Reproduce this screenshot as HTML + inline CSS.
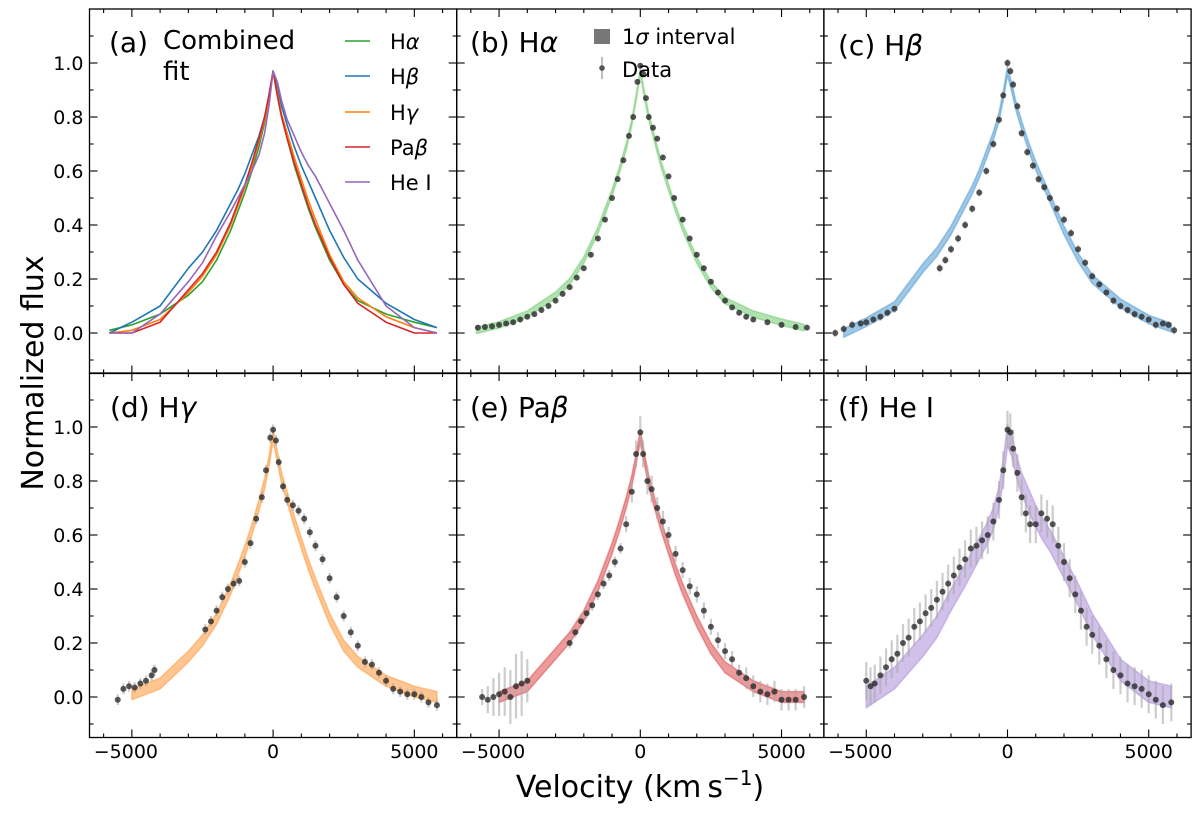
<!DOCTYPE html>
<html><head><meta charset="utf-8"><style>
html,body{margin:0;padding:0;background:#fff;}
svg{display:block;font-family:"DejaVu Sans","Liberation Sans",sans-serif;}
</style></head><body>
<svg id="fig" width="1200" height="815" viewBox="0 0 1200 815" xmlns="http://www.w3.org/2000/svg">
<text transform="translate(43,373) rotate(-90)" text-anchor="middle" font-size="30">Normalized flux</text>
<text x="640" y="797" text-anchor="middle" font-size="30">Velocity (km<tspan dx="6">s</tspan><tspan font-size="20" dy="-12">−1</tspan><tspan dy="12">)</tspan></text>
</svg>
<script>
// ---------- data ----------
const modelVel = [-5800,-5000,-4000,-3000,-2500,-2000,-1500,-1250,-1000,-750,-500,-300,-150,0,150,300,500,750,1000,1250,1500,2000,2500,3000,4000,5000,5800];
const haModel  = [0.01,0.03,0.07,0.14,0.19,0.27,0.38,0.45,0.52,0.60,0.69,0.78,0.87,0.97,0.88,0.80,0.72,0.62,0.54,0.46,0.39,0.27,0.18,0.12,0.07,0.04,0.02];
const hbModel  = [0.00,0.04,0.10,0.24,0.30,0.38,0.48,0.53,0.59,0.66,0.73,0.80,0.88,0.97,0.91,0.84,0.77,0.69,0.62,0.56,0.50,0.38,0.28,0.20,0.11,0.05,0.02];
const hgModel  = [0.00,0.01,0.05,0.15,0.21,0.29,0.40,0.47,0.54,0.62,0.71,0.79,0.87,0.97,0.89,0.81,0.74,0.65,0.57,0.49,0.42,0.29,0.19,0.13,0.06,0.02,0.00];
const pbModel  = [0.00,0.00,0.04,0.16,0.22,0.30,0.41,0.48,0.55,0.63,0.72,0.80,0.88,0.97,0.88,0.80,0.72,0.63,0.55,0.47,0.40,0.28,0.18,0.11,0.04,0.00,0.00];
const heModel  = [0.00,0.00,0.07,0.19,0.26,0.36,0.45,0.50,0.55,0.60,0.66,0.74,0.84,0.97,0.93,0.86,0.79,0.73,0.67,0.62,0.58,0.48,0.38,0.27,0.10,0.02,0.00];
const haBand = 0.012, hbBand = 0.016, hgBand = 0.02, pbBand = 0.02, heBand = 0.04;

const haDataV = [-5750,-5500,-5250,-5000,-4750,-4500,-4250,-4000,-3750,-3500,-3250,-3000,-2750,-2500,-2250,-2000,-1750,-1500,-1250,-1000,-800,-600,-400,-250,-100,0,100,200,300,450,600,800,1000,1200,1500,1750,2000,2250,2500,2750,3000,3250,3500,3750,4000,4500,5000,5500,5900];
const haDataF = [0.02,0.022,0.025,0.03,0.035,0.04,0.05,0.06,0.07,0.085,0.10,0.12,0.145,0.17,0.205,0.24,0.29,0.35,0.42,0.50,0.57,0.64,0.73,0.80,0.93,0.99,0.96,0.87,0.80,0.76,0.72,0.65,0.58,0.50,0.42,0.35,0.29,0.24,0.19,0.15,0.12,0.095,0.075,0.06,0.05,0.04,0.03,0.022,0.02];
const haDataE = 0.01;

const hbDataV = [-6100,-5800,-5500,-5200,-5000,-4750,-4500,-4250,-4000,-2400,-2200,-2000,-1750,-1500,-1250,-1000,-750,-500,-300,-150,0,100,200,350,500,700,900,1100,1300,1500,1750,2000,2250,2500,2750,3000,3250,3500,3750,4000,4250,4500,4750,5000,5250,5500,5700,5900];
const hbDataF = [0.0,0.015,0.03,0.035,0.04,0.05,0.06,0.075,0.09,0.24,0.27,0.31,0.35,0.40,0.46,0.52,0.60,0.70,0.79,0.88,1.00,0.97,0.92,0.84,0.74,0.67,0.62,0.57,0.54,0.50,0.46,0.42,0.37,0.31,0.26,0.21,0.18,0.15,0.12,0.10,0.085,0.07,0.06,0.05,0.03,0.035,0.03,0.01];
const hbDataE = 0.015;

const hgDataV = [-5500,-5300,-5100,-4900,-4700,-4500,-4300,-4200,-2400,-2200,-2000,-1800,-1600,-1400,-1200,-1000,-800,-600,-400,-250,-100,0,100,200,350,500,700,900,1100,1300,1500,1750,2000,2250,2500,2750,3000,3250,3500,3750,4000,4250,4500,4750,5000,5250,5500,5800];
const hgDataF = [-0.01,0.03,0.04,0.035,0.05,0.06,0.08,0.10,0.25,0.28,0.32,0.37,0.40,0.42,0.43,0.50,0.57,0.66,0.74,0.84,0.96,0.99,0.95,0.87,0.78,0.73,0.71,0.69,0.66,0.61,0.56,0.51,0.44,0.37,0.30,0.24,0.19,0.13,0.12,0.09,0.06,0.03,0.02,0.01,0.01,0.0,-0.02,-0.03];
const hgDataE = 0.02;

const pbDataV = [-5600,-5400,-5200,-5000,-4800,-4600,-4400,-4200,-4000,-2500,-2300,-2100,-1900,-1700,-1500,-1300,-1100,-900,-700,-500,-300,-150,0,100,250,400,600,800,1000,1250,1500,1750,2000,2250,2500,2750,3000,3250,3500,3750,4000,4250,4500,4750,5000,5250,5500,5800];
const pbDataF = [0.0,-0.01,0.0,0.01,0.02,0.0,0.04,0.05,0.06,0.20,0.24,0.28,0.31,0.34,0.38,0.42,0.45,0.50,0.55,0.64,0.76,0.90,0.98,0.90,0.80,0.77,0.70,0.65,0.60,0.53,0.47,0.41,0.38,0.32,0.26,0.21,0.17,0.14,0.09,0.07,0.04,0.02,0.01,0.02,-0.01,-0.01,-0.01,0.0];
const pbDataE = [0.03,0.05,0.07,0.08,0.09,0.10,0.12,0.12,0.08,0.02,0.02,0.02,0.02,0.02,0.02,0.02,0.02,0.02,0.02,0.03,0.04,0.05,0.06,0.05,0.05,0.05,0.04,0.04,0.03,0.03,0.03,0.03,0.03,0.03,0.03,0.03,0.03,0.03,0.03,0.04,0.04,0.04,0.04,0.04,0.04,0.04,0.04,0.04];

const heDataV = [-5000,-4850,-4700,-4500,-4300,-4100,-3900,-3700,-3500,-3300,-3100,-2900,-2700,-2500,-2300,-2100,-1900,-1700,-1500,-1300,-1100,-900,-700,-500,-300,-150,0,100,200,350,500,650,800,1000,1200,1400,1600,1800,2000,2200,2400,2600,2800,3000,3250,3500,3750,4000,4250,4500,4750,5000,5250,5500,5800];
const heDataF = [0.06,0.04,0.05,0.08,0.11,0.14,0.16,0.20,0.22,0.26,0.28,0.31,0.33,0.36,0.39,0.42,0.45,0.48,0.51,0.55,0.56,0.58,0.60,0.65,0.73,0.84,0.99,0.98,0.92,0.83,0.74,0.68,0.64,0.64,0.68,0.66,0.64,0.56,0.50,0.44,0.38,0.32,0.26,0.23,0.19,0.14,0.10,0.08,0.05,0.04,0.03,0.01,-0.01,-0.03,-0.02];
const heDataE = 0.07;

const yTicks = [0.0,0.2,0.4,0.6,0.8,1.0];
const yTickLabels = ["0.0","0.2","0.4","0.6","0.8","1.0"];
const xTicks = [-5000,0,5000];
const xTickLabels = ["−5000","0","5000"];

// ---------- layout ----------
const NS="http://www.w3.org/2000/svg";
const svg=document.getElementById('fig');
const X0=[89.5,456.7,823.9], W=367.2;
const Y0=[9,373], H=364.5;
const XMIN=-6500,XMAX=6500,YMIN=-0.15,YMAX=1.2;
function mk(tag,attrs,parent){const e=document.createElementNS(NS,tag);for(const k in attrs)e.setAttribute(k,attrs[k]);(parent||svg).appendChild(e);return e;}
function sx(c,v){return X0[c]+(v-XMIN)/(XMAX-XMIN)*W;}
function sy(r,f){return Y0[r]+(YMAX-f)/(YMAX-YMIN)*H;}

const colors={ha:'#2ca02c',hb:'#1f77b4',hg:'#ff7f0e',pb:'#d62728',he:'#9467bd'};

function linePath(c,r,vs,fs){return vs.map((v,i)=>(i?'L':'M')+sx(c,v).toFixed(1)+','+sy(r,fs[i]).toFixed(1)).join(' ');}
function bandPath(c,r,vs,fs,hw,vmin){const idx=vs.map((v,i)=>i).filter(i=>vs[i]>=vmin);
 let d=idx.map((i,j)=>(j?'L':'M')+sx(c,vs[i]).toFixed(1)+','+sy(r,fs[i]+hw).toFixed(1)).join(' ');
 for(let j=idx.length-1;j>=0;j--){const i=idx[j];d+=' L'+sx(c,vs[i]).toFixed(1)+','+sy(r,fs[i]-hw).toFixed(1);}return d+' Z';}

function drawPanel(c,r,name){
  const g=mk('g',{});
  
  
  return g;
}
function drawBand(g,c,r,fs,hw,col,vmin,name){
  const p=mk('path',{d:bandPath(c,r,modelVel,fs,hw,vmin),fill:col,'fill-opacity':0.6,stroke:col,'stroke-opacity':0.6,'stroke-width':1.5,'stroke-linejoin':'round'},g);
  
  
}
function drawData(g,c,r,vs,fs,es,name){
  const dg=mk('g',{},g);
  
  
  vs.forEach((v,i)=>{const e=Array.isArray(es)?es[i]:es;
    const l=mk('line',{x1:sx(c,v),x2:sx(c,v),y1:sy(r,fs[i]-e),y2:sy(r,fs[i]+e),stroke:'#aaa','stroke-width':2.2,'stroke-opacity':0.6},dg);
    
    
  });
  vs.forEach((v,i)=>{
    const pt=mk('circle',{cx:sx(c,v),cy:sy(r,fs[i]),r:3,fill:'#222','fill-opacity':0.75},dg);
    
    
  });
}

// panel a
const ga=drawPanel(0,0,'panel-a-combined-fit');
[['ha',haModel],['hb',hbModel],['hg',hgModel],['pb',pbModel],['he',heModel]].forEach(([k,arr])=>{
  const p=mk('path',{d:linePath(0,0,modelVel,arr),fill:'none',stroke:colors[k],'stroke-width':1.6,'stroke-linejoin':'round'},ga);
  
  
});
const gb=drawPanel(1,0,'panel-b-halpha'); drawBand(gb,1,0,haModel,haBand,'#7fcf7f',-5800,'band-halpha'); drawData(gb,1,0,haDataV,haDataF,haDataE,'data-halpha');
const gc=drawPanel(2,0,'panel-c-hbeta'); drawBand(gc,2,0,hbModel,hbBand,'#5fa3d6',-5800,'band-hbeta'); drawData(gc,2,0,hbDataV,hbDataF,hbDataE,'data-hbeta');
const gd=drawPanel(0,1,'panel-d-hgamma'); drawBand(gd,0,1,hgModel,hgBand,'#ffa04a',-5000,'band-hgamma'); drawData(gd,0,1,hgDataV,hgDataF,hgDataE,'data-hgamma');
const ge=drawPanel(1,1,'panel-e-pabeta'); drawBand(ge,1,1,pbModel,pbBand,'#e0585a',-5000,'band-pabeta'); drawData(ge,1,1,pbDataV,pbDataF,pbDataE,'data-pabeta');
const gf=drawPanel(2,1,'panel-f-hei'); drawBand(gf,2,1,heModel,heBand,'#b396dc',-5000,'band-hei'); drawData(gf,2,1,heDataV,heDataF,heDataE,'data-hei');

// axes frames and ticks
for(let r=0;r<2;r++)for(let c=0;c<3;c++){
  const ax=mk('g',{});
  
  
  mk('rect',{x:X0[c],y:Y0[r],width:W,height:H,fill:'none',stroke:'#000','stroke-width':1.3},ax);
  for(let v=-6000;v<=6000;v+=1000){const major=(v%5000===0);const L=major?8:4;const x=sx(c,v);
    mk('line',{x1:x,x2:x,y1:Y0[r]+H,y2:Y0[r]+H-L,stroke:'#000','stroke-width':1.1},ax);
    mk('line',{x1:x,x2:x,y1:Y0[r],y2:Y0[r]+L,stroke:'#000','stroke-width':1.1},ax);}
  for(let k=-1;k<=11;k++){const f=k/10;const major=(k%2===0);const L=major?8:4;const y=sy(r,f);
    mk('line',{x1:X0[c],x2:X0[c]+L,y1:y,y2:y,stroke:'#000','stroke-width':1.1},ax);
    mk('line',{x1:X0[c]+W,x2:X0[c]+W-L,y1:y,y2:y,stroke:'#000','stroke-width':1.1},ax);}
  if(c===0)yTicks.forEach((f,i)=>{const t=mk('text',{x:X0[0]-6,y:sy(r,f)+7,'text-anchor':'end','font-size':19},ax);t.textContent=yTickLabels[i];
    
    });
  if(r===1)xTicks.forEach((v,i)=>{const t=mk('text',{x:sx(c,v)-(v<0?6:0),y:758,'text-anchor':'middle','font-size':19},ax);t.textContent=xTickLabels[i];
    
    });
}
</script>
<svg style="position:absolute;left:0;top:0" width="1200" height="815" font-family="DejaVu Sans, Liberation Sans, sans-serif">
<text x="109" y="52" font-size="28">(a)</text>
<text x="163" y="49" font-size="26">Combined</text>
<text x="163" y="80" font-size="26">fit</text>
<g font-size="21">
<line x1="345" x2="370" y1="41" y2="41" stroke="#2ca02c" stroke-width="1.6"/><text x="390" y="49">H<tspan font-style="italic">α</tspan></text>
<line x1="345" x2="370" y1="76" y2="76" stroke="#1f77b4" stroke-width="1.6"/><text x="390" y="84">H<tspan font-style="italic">β</tspan></text>
<line x1="345" x2="370" y1="112" y2="112" stroke="#ff7f0e" stroke-width="1.6"/><text x="390" y="120">H<tspan font-style="italic">γ</tspan></text>
<line x1="345" x2="370" y1="147" y2="147" stroke="#d62728" stroke-width="1.6"/><text x="390" y="155">Pa<tspan font-style="italic">β</tspan></text>
<line x1="345" x2="370" y1="182" y2="182" stroke="#9467bd" stroke-width="1.6"/><text x="390" y="190">He I</text>
</g>
<text x="470" y="52" font-size="28">(b) H<tspan font-style="italic">α</tspan></text>
<g font-size="21">
<rect x="594" y="29" width="16" height="15" fill="#777"/><text x="622" y="44">1<tspan font-style="italic">σ</tspan> interval</text>
<line x1="602" x2="602" y1="57" y2="79" stroke="#aaa" stroke-width="1.5"/><circle cx="602" cy="68" r="2.8" fill="#555"/><text x="622" y="77">Data</text>
</g>
<text x="838" y="55" font-size="28">(c) H<tspan font-style="italic">β</tspan></text>
<text x="110" y="417" font-size="28">(d) H<tspan font-style="italic">γ</tspan></text>
<text x="470" y="417" font-size="28">(e) Pa<tspan font-style="italic">β</tspan></text>
<text x="838" y="417" font-size="28">(f) He I</text>
</svg>
</body></html>
